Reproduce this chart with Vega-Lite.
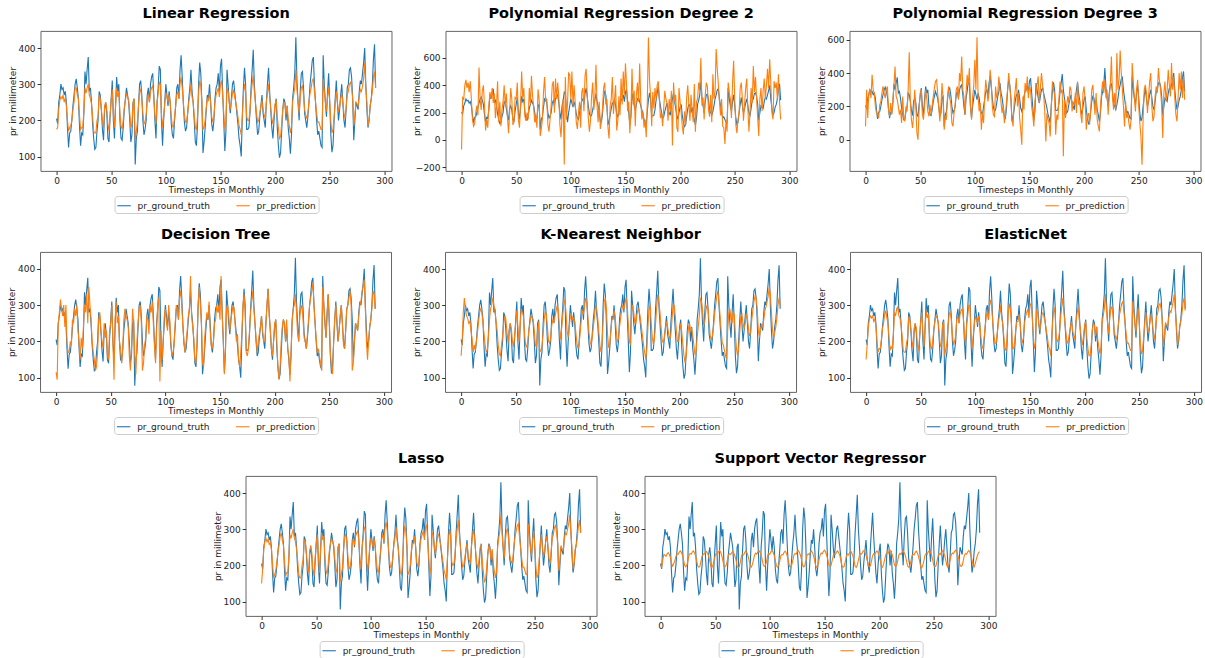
{
"$schema": "https://vega.github.io/schema/vega-lite/v6.json",
"background": "white",
"padding": {"left": 7, "top": 5, "right": 0, "bottom": 0},
"data": {"values": [
{"t":0,"g":205,"a":175,"b":-70,"c":80,"d":115,"e":160,"f":150,"h":150,"s":200},
{"t":1,"g":190,"a":180,"b":310,"c":300,"d":95,"e":200,"f":190,"h":190,"s":195},
{"t":2,"g":250,"a":230,"b":300,"c":130,"d":250,"e":280,"f":240,"h":245,"s":215},
{"t":3,"g":270,"a":255,"b":400,"c":280,"d":280,"e":320,"f":260,"h":265,"s":230},
{"t":4,"g":300,"a":265,"b":440,"c":300,"d":315,"e":290,"f":270,"h":275,"s":228},
{"t":5,"g":285,"a":260,"b":380,"c":250,"d":290,"e":270,"f":265,"h":265,"s":225},
{"t":6,"g":290,"a":270,"b":420,"c":390,"d":270,"e":265,"f":270,"h":272,"s":232},
{"t":7,"g":270,"a":250,"b":350,"c":300,"d":300,"e":250,"f":255,"h":258,"s":235},
{"t":8,"g":280,"a":262,"b":430,"c":280,"d":240,"e":255,"f":262,"h":262,"s":230},
{"t":9,"g":250,"a":240,"b":300,"c":200,"d":300,"e":230,"f":245,"h":245,"s":222},
{"t":10,"g":180,"a":200,"b":150,"c":160,"d":200,"e":210,"f":200,"h":205,"s":205},
{"t":11,"g":125,"a":170,"b":100,"c":150,"d":170,"e":170,"f":170,"h":165,"s":198},
{"t":12,"g":165,"a":180,"b":120,"c":130,"d":170,"e":190,"f":180,"h":175,"s":205},
{"t":13,"g":170,"a":185,"b":200,"c":210,"d":200,"e":175,"f":180,"h":185,"s":212},
{"t":14,"g":200,"a":200,"b":250,"c":230,"d":190,"e":200,"f":205,"h":210,"s":225},
{"t":15,"g":240,"a":230,"b":180,"c":280,"d":260,"e":225,"f":235,"h":235,"s":232},
{"t":16,"g":270,"a":250,"b":530,"c":320,"d":250,"e":255,"f":250,"h":255,"s":230},
{"t":17,"g":300,"a":290,"b":300,"c":280,"d":290,"e":280,"f":275,"h":280,"s":236},
{"t":18,"g":315,"a":290,"b":220,"c":250,"d":270,"e":290,"f":285,"h":290,"s":240},
{"t":19,"g":290,"a":270,"b":360,"c":300,"d":300,"e":280,"f":265,"h":270,"s":236},
{"t":20,"g":260,"a":260,"b":400,"c":320,"d":230,"e":250,"f":250,"h":255,"s":228},
{"t":21,"g":185,"a":215,"b":250,"c":180,"d":200,"e":220,"f":210,"h":215,"s":215},
{"t":22,"g":130,"a":175,"b":70,"c":140,"d":150,"e":190,"f":175,"h":170,"s":200},
{"t":23,"g":165,"a":180,"b":150,"c":220,"d":210,"e":170,"f":185,"h":180,"s":196},
{"t":24,"g":160,"a":180,"b":90,"c":150,"d":180,"e":175,"f":180,"h":180,"s":200},
{"t":25,"g":220,"a":225,"b":250,"c":230,"d":240,"e":210,"f":220,"h":225,"s":213},
{"t":26,"g":335,"a":290,"b":350,"c":330,"d":300,"e":260,"f":280,"h":285,"s":228},
{"t":27,"g":300,"a":275,"b":300,"c":440,"d":280,"e":290,"f":270,"h":275,"s":233},
{"t":28,"g":340,"a":290,"b":380,"c":260,"d":330,"e":300,"f":290,"h":290,"s":231},
{"t":29,"g":375,"a":300,"b":270,"c":240,"d":250,"e":320,"f":295,"h":300,"s":237},
{"t":30,"g":280,"a":270,"b":340,"c":200,"d":350,"e":300,"f":270,"h":275,"s":240},
{"t":31,"g":290,"a":260,"b":160,"c":150,"d":300,"e":285,"f":265,"h":265,"s":235},
{"t":32,"g":250,"a":245,"b":260,"c":180,"d":260,"e":255,"f":245,"h":245,"s":226},
{"t":33,"g":190,"a":210,"b":430,"c":100,"d":200,"e":230,"f":215,"h":215,"s":214},
{"t":34,"g":150,"a":170,"b":130,"c":260,"d":170,"e":190,"f":175,"h":175,"s":198},
{"t":35,"g":120,"a":165,"b":280,"c":130,"d":150,"e":165,"f":170,"h":165,"s":195},
{"t":36,"g":125,"a":165,"b":100,"c":110,"d":120,"e":160,"f":170,"h":165,"s":198},
{"t":37,"g":170,"a":200,"b":220,"c":200,"d":130,"e":190,"f":195,"h":200,"s":212},
{"t":38,"g":200,"a":210,"b":280,"c":170,"d":170,"e":215,"f":210,"h":215,"s":226},
{"t":39,"g":280,"a":270,"b":400,"c":300,"d":260,"e":250,"f":265,"h":270,"s":230},
{"t":40,"g":270,"a":260,"b":250,"c":525,"d":280,"e":270,"f":260,"h":265,"s":232},
{"t":41,"g":230,"a":230,"b":340,"c":230,"d":230,"e":260,"f":235,"h":235,"s":236},
{"t":42,"g":175,"a":200,"b":170,"c":120,"d":200,"e":225,"f":200,"h":200,"s":238},
{"t":43,"g":145,"a":180,"b":50,"c":70,"d":180,"e":195,"f":180,"h":180,"s":233},
{"t":44,"g":230,"a":240,"b":200,"c":150,"d":250,"e":230,"f":235,"h":240,"s":225},
{"t":45,"g":250,"a":250,"b":380,"c":300,"d":210,"e":250,"f":250,"h":255,"s":212},
{"t":46,"g":220,"a":230,"b":300,"c":210,"d":230,"e":235,"f":235,"h":235,"s":197},
{"t":47,"g":150,"a":190,"b":110,"c":40,"d":160,"e":200,"f":190,"h":190,"s":194},
{"t":48,"g":140,"a":170,"b":130,"c":0,"d":150,"e":185,"f":175,"h":170,"s":202},
{"t":49,"g":210,"a":215,"b":310,"c":180,"d":230,"e":215,"f":215,"h":220,"s":214},
{"t":50,"g":260,"a":255,"b":300,"c":280,"d":250,"e":250,"f":255,"h":260,"s":227},
{"t":51,"g":310,"a":285,"b":420,"c":300,"d":300,"e":285,"f":280,"h":285,"s":233},
{"t":52,"g":200,"a":220,"b":150,"c":150,"d":200,"e":240,"f":225,"h":225,"s":229},
{"t":53,"g":150,"a":180,"b":90,"c":120,"d":95,"e":200,"f":185,"h":180,"s":238},
{"t":54,"g":240,"a":240,"b":260,"c":200,"d":260,"e":240,"f":240,"h":245,"s":241},
{"t":55,"g":320,"a":290,"b":500,"c":300,"d":310,"e":290,"f":285,"h":290,"s":236},
{"t":56,"g":280,"a":265,"b":310,"c":250,"d":250,"e":280,"f":265,"h":270,"s":227},
{"t":57,"g":300,"a":280,"b":380,"c":170,"d":270,"e":270,"f":275,"h":280,"s":213},
{"t":58,"g":200,"a":220,"b":170,"c":140,"d":200,"e":225,"f":220,"h":220,"s":199},
{"t":59,"g":150,"a":185,"b":140,"c":210,"d":180,"e":190,"f":185,"h":185,"s":196},
{"t":60,"g":145,"a":175,"b":200,"c":150,"d":140,"e":185,"f":180,"h":175,"s":200},
{"t":61,"g":180,"a":200,"b":150,"c":210,"d":180,"e":200,"f":200,"h":205,"s":213},
{"t":62,"g":230,"a":235,"b":380,"c":260,"d":260,"e":230,"f":235,"h":240,"s":228},
{"t":63,"g":260,"a":255,"b":260,"c":310,"d":290,"e":250,"f":255,"h":260,"s":232},
{"t":64,"g":290,"a":275,"b":470,"c":350,"d":270,"e":270,"f":270,"h":275,"s":230},
{"t":65,"g":270,"a":265,"b":320,"c":360,"d":260,"e":265,"f":265,"h":265,"s":235},
{"t":66,"g":250,"a":255,"b":240,"c":280,"d":240,"e":260,"f":255,"h":255,"s":239},
{"t":67,"g":200,"a":220,"b":130,"c":200,"d":160,"e":230,"f":220,"h":220,"s":234},
{"t":68,"g":140,"a":180,"b":180,"c":110,"d":120,"e":190,"f":185,"h":180,"s":226},
{"t":69,"g":160,"a":190,"b":90,"c":200,"d":180,"e":185,"f":195,"h":190,"s":215},
{"t":70,"g":250,"a":245,"b":370,"c":340,"d":290,"e":230,"f":245,"h":250,"s":198},
{"t":71,"g":260,"a":260,"b":300,"c":240,"d":250,"e":255,"f":255,"h":260,"s":193},
{"t":72,"g":78,"a":145,"b":30,"c":60,"d":170,"e":170,"f":160,"h":155,"s":197},
{"t":73,"g":150,"a":170,"b":80,"c":140,"d":110,"e":175,"f":180,"h":175,"s":210},
{"t":74,"g":170,"a":195,"b":150,"c":120,"d":200,"e":185,"f":195,"h":195,"s":226},
{"t":75,"g":240,"a":240,"b":350,"c":260,"d":250,"e":220,"f":240,"h":245,"s":231},
{"t":76,"g":300,"a":280,"b":460,"c":320,"d":290,"e":260,"f":275,"h":280,"s":229},
{"t":77,"g":310,"a":285,"b":280,"c":250,"d":300,"e":280,"f":280,"h":285,"s":236},
{"t":78,"g":270,"a":260,"b":300,"c":220,"d":250,"e":275,"f":260,"h":265,"s":240},
{"t":79,"g":200,"a":220,"b":110,"c":100,"d":120,"e":240,"f":220,"h":225,"s":235},
{"t":80,"g":160,"a":190,"b":60,"c":80,"d":140,"e":200,"f":190,"h":190,"s":227},
{"t":81,"g":175,"a":195,"b":150,"c":160,"d":190,"e":195,"f":200,"h":195,"s":214},
{"t":82,"g":200,"a":215,"b":250,"c":210,"d":210,"e":210,"f":215,"h":215,"s":200},
{"t":83,"g":270,"a":260,"b":400,"c":300,"d":270,"e":245,"f":260,"h":260,"s":195},
{"t":84,"g":290,"a":270,"b":430,"c":320,"d":260,"e":260,"f":270,"h":275,"s":202},
{"t":85,"g":250,"a":250,"b":200,"c":240,"d":220,"e":255,"f":250,"h":255,"s":215},
{"t":86,"g":300,"a":280,"b":450,"c":400,"d":300,"e":270,"f":275,"h":280,"s":229},
{"t":87,"g":320,"a":290,"b":300,"c":350,"d":280,"e":285,"f":285,"h":290,"s":234},
{"t":88,"g":330,"a":295,"b":420,"c":500,"d":310,"e":300,"f":290,"h":295,"s":231},
{"t":89,"g":270,"a":265,"b":320,"c":300,"d":250,"e":285,"f":265,"h":265,"s":237},
{"t":90,"g":200,"a":215,"b":110,"c":260,"d":190,"e":240,"f":220,"h":220,"s":241},
{"t":91,"g":150,"a":190,"b":20,"c":150,"d":140,"e":205,"f":190,"h":190,"s":236},
{"t":92,"g":250,"a":250,"b":180,"c":280,"d":230,"e":235,"f":245,"h":250,"s":228},
{"t":93,"g":290,"a":275,"b":300,"c":390,"d":300,"e":270,"f":270,"h":275,"s":216},
{"t":94,"g":350,"a":305,"b":-180,"c":330,"d":320,"e":305,"f":300,"h":305,"s":201},
{"t":95,"g":340,"a":300,"b":460,"c":430,"d":90,"e":315,"f":300,"h":300,"s":197},
{"t":96,"g":200,"a":220,"b":150,"c":200,"d":230,"e":280,"f":220,"h":225,"s":200},
{"t":97,"g":130,"a":180,"b":270,"c":120,"d":150,"e":230,"f":180,"h":180,"s":212},
{"t":98,"g":200,"a":210,"b":490,"c":260,"d":200,"e":210,"f":215,"h":215,"s":227},
{"t":99,"g":250,"a":245,"b":480,"c":320,"d":270,"e":240,"f":245,"h":250,"s":233},
{"t":100,"g":300,"a":275,"b":300,"c":480,"d":290,"e":270,"f":270,"h":275,"s":230},
{"t":101,"g":270,"a":265,"b":500,"c":300,"d":250,"e":275,"f":260,"h":265,"s":238},
{"t":102,"g":240,"a":250,"b":250,"c":615,"d":230,"e":260,"f":250,"h":250,"s":240},
{"t":103,"g":280,"a":270,"b":400,"c":260,"d":300,"e":265,"f":270,"h":275,"s":236},
{"t":104,"g":250,"a":250,"b":270,"c":170,"d":260,"e":255,"f":250,"h":250,"s":227},
{"t":105,"g":190,"a":210,"b":130,"c":220,"d":200,"e":225,"f":215,"h":215,"s":214},
{"t":106,"g":160,"a":185,"b":80,"c":60,"d":160,"e":195,"f":185,"h":185,"s":199},
{"t":107,"g":150,"a":180,"b":200,"c":160,"d":170,"e":180,"f":180,"h":180,"s":195},
{"t":108,"g":200,"a":210,"b":280,"c":100,"d":190,"e":190,"f":210,"h":210,"s":198},
{"t":109,"g":240,"a":240,"b":90,"c":250,"d":250,"e":225,"f":240,"h":245,"s":211},
{"t":110,"g":290,"a":270,"b":350,"c":360,"d":300,"e":260,"f":270,"h":275,"s":226},
{"t":111,"g":300,"a":280,"b":380,"c":300,"d":290,"e":285,"f":280,"h":285,"s":230},
{"t":112,"g":260,"a":260,"b":210,"c":230,"d":260,"e":275,"f":260,"h":265,"s":229},
{"t":113,"g":340,"a":300,"b":470,"c":280,"d":320,"e":295,"f":300,"h":305,"s":236},
{"t":114,"g":380,"a":320,"b":520,"c":420,"d":340,"e":320,"f":315,"h":320,"s":239},
{"t":115,"g":320,"a":290,"b":330,"c":350,"d":300,"e":310,"f":290,"h":295,"s":234},
{"t":116,"g":250,"a":250,"b":160,"c":200,"d":240,"e":270,"f":250,"h":255,"s":225},
{"t":117,"g":195,"a":215,"b":60,"c":150,"d":200,"e":225,"f":215,"h":215,"s":212},
{"t":118,"g":170,"a":195,"b":140,"c":140,"d":170,"e":200,"f":195,"h":195,"s":197},
{"t":119,"g":180,"a":195,"b":320,"c":320,"d":200,"e":190,"f":195,"h":195,"s":194},
{"t":120,"g":220,"a":220,"b":420,"c":250,"d":230,"e":210,"f":220,"h":220,"s":201},
{"t":121,"g":260,"a":250,"b":220,"c":280,"d":270,"e":240,"f":250,"h":255,"s":214},
{"t":122,"g":290,"a":270,"b":300,"c":380,"d":290,"e":265,"f":270,"h":275,"s":228},
{"t":123,"g":340,"a":300,"b":550,"c":310,"d":380,"e":300,"f":300,"h":305,"s":233},
{"t":124,"g":280,"a":265,"b":250,"c":220,"d":270,"e":290,"f":265,"h":270,"s":231},
{"t":125,"g":250,"a":250,"b":130,"c":160,"d":240,"e":265,"f":250,"h":250,"s":238},
{"t":126,"g":200,"a":215,"b":280,"c":210,"d":210,"e":230,"f":215,"h":215,"s":241},
{"t":127,"g":140,"a":180,"b":80,"c":100,"d":150,"e":190,"f":180,"h":180,"s":236},
{"t":128,"g":130,"a":175,"b":140,"c":150,"d":140,"e":170,"f":175,"h":175,"s":228},
{"t":129,"g":190,"a":210,"b":230,"c":230,"d":200,"e":195,"f":210,"h":210,"s":215},
{"t":130,"g":300,"a":275,"b":380,"c":300,"d":300,"e":260,"f":270,"h":275,"s":200},
{"t":131,"g":360,"a":310,"b":420,"c":400,"d":350,"e":310,"f":305,"h":310,"s":196},
{"t":132,"g":330,"a":295,"b":260,"c":320,"d":300,"e":320,"f":290,"h":295,"s":199},
{"t":133,"g":250,"a":250,"b":300,"c":250,"d":250,"e":290,"f":250,"h":255,"s":213},
{"t":134,"g":110,"a":175,"b":90,"c":120,"d":140,"e":220,"f":180,"h":175,"s":227},
{"t":135,"g":140,"a":180,"b":10,"c":80,"d":130,"e":185,"f":180,"h":180,"s":232},
{"t":136,"g":180,"a":200,"b":250,"c":230,"d":210,"e":190,"f":200,"h":200,"s":229},
{"t":137,"g":230,"a":235,"b":300,"c":300,"d":250,"e":225,"f":235,"h":240,"s":236},
{"t":138,"g":270,"a":260,"b":460,"c":370,"d":280,"e":260,"f":255,"h":260,"s":240},
{"t":139,"g":260,"a":255,"b":190,"c":200,"d":260,"e":265,"f":255,"h":260,"s":235},
{"t":140,"g":300,"a":275,"b":300,"c":280,"d":310,"e":285,"f":275,"h":280,"s":226},
{"t":141,"g":250,"a":250,"b":400,"c":130,"d":230,"e":270,"f":250,"h":250,"s":213},
{"t":142,"g":190,"a":210,"b":70,"c":60,"d":190,"e":230,"f":210,"h":210,"s":198},
{"t":143,"g":170,"a":195,"b":140,"c":-30,"d":180,"e":200,"f":195,"h":195,"s":194},
{"t":144,"g":200,"a":210,"b":320,"c":260,"d":200,"e":205,"f":210,"h":210,"s":202},
{"t":145,"g":260,"a":250,"b":180,"c":180,"d":250,"e":240,"f":250,"h":255,"s":215},
{"t":146,"g":290,"a":270,"b":450,"c":340,"d":260,"e":265,"f":270,"h":275,"s":229},
{"t":147,"g":300,"a":280,"b":260,"c":290,"d":300,"e":285,"f":280,"h":285,"s":234},
{"t":148,"g":330,"a":290,"b":500,"c":380,"d":280,"e":300,"f":290,"h":295,"s":232},
{"t":149,"g":280,"a":265,"b":330,"c":250,"d":300,"e":290,"f":265,"h":270,"s":238},
{"t":150,"g":350,"a":300,"b":560,"c":320,"d":260,"e":305,"f":300,"h":305,"s":242},
{"t":151,"g":370,"a":310,"b":400,"c":300,"d":380,"e":320,"f":305,"h":310,"s":237},
{"t":152,"g":280,"a":270,"b":210,"c":200,"d":270,"e":300,"f":270,"h":275,"s":228},
{"t":153,"g":200,"a":220,"b":280,"c":150,"d":210,"e":250,"f":220,"h":220,"s":216},
{"t":154,"g":115,"a":175,"b":50,"c":80,"d":110,"e":200,"f":180,"h":175,"s":201},
{"t":155,"g":170,"a":195,"b":200,"c":230,"d":180,"e":190,"f":195,"h":195,"s":197},
{"t":156,"g":340,"a":290,"b":520,"c":280,"d":290,"e":280,"f":285,"h":290,"s":200},
{"t":157,"g":300,"a":280,"b":260,"c":330,"d":300,"e":300,"f":280,"h":285,"s":213},
{"t":158,"g":250,"a":250,"b":360,"c":380,"d":270,"e":280,"f":250,"h":255,"s":227},
{"t":159,"g":220,"a":230,"b":100,"c":220,"d":230,"e":250,"f":230,"h":230,"s":232},
{"t":160,"g":260,"a":250,"b":330,"c":310,"d":260,"e":250,"f":250,"h":255,"s":230},
{"t":161,"g":300,"a":275,"b":420,"c":400,"d":280,"e":275,"f":275,"h":280,"s":237},
{"t":162,"g":310,"a":285,"b":280,"c":330,"d":300,"e":290,"f":280,"h":285,"s":240},
{"t":163,"g":280,"a":265,"b":560,"c":270,"d":290,"e":285,"f":265,"h":270,"s":235},
{"t":164,"g":250,"a":250,"b":290,"c":170,"d":240,"e":265,"f":250,"h":255,"s":227},
{"t":165,"g":220,"a":230,"b":150,"c":-10,"d":200,"e":240,"f":230,"h":230,"s":214},
{"t":166,"g":190,"a":210,"b":210,"c":160,"d":220,"e":215,"f":210,"h":210,"s":199},
{"t":167,"g":150,"a":185,"b":90,"c":120,"d":150,"e":190,"f":185,"h":185,"s":195},
{"t":168,"g":130,"a":175,"b":150,"c":100,"d":130,"e":170,"f":180,"h":175,"s":197},
{"t":169,"g":100,"a":160,"b":20,"c":20,"d":170,"e":150,"f":160,"h":160,"s":210},
{"t":170,"g":210,"a":210,"b":280,"c":200,"d":220,"e":180,"f":210,"h":215,"s":226},
{"t":171,"g":290,"a":270,"b":750,"c":350,"d":300,"e":240,"f":265,"h":270,"s":231},
{"t":172,"g":345,"a":300,"b":440,"c":300,"d":330,"e":290,"f":295,"h":300,"s":229},
{"t":173,"g":300,"a":280,"b":320,"c":270,"d":280,"e":300,"f":275,"h":280,"s":235},
{"t":174,"g":175,"a":210,"b":100,"c":30,"d":170,"e":250,"f":210,"h":210,"s":239},
{"t":175,"g":175,"a":200,"b":350,"c":150,"d":160,"e":210,"f":200,"h":200,"s":234},
{"t":176,"g":180,"a":200,"b":230,"c":120,"d":180,"e":190,"f":205,"h":205,"s":226},
{"t":177,"g":220,"a":225,"b":380,"c":250,"d":230,"e":210,"f":225,"h":230,"s":213},
{"t":178,"g":290,"a":270,"b":300,"c":350,"d":280,"e":250,"f":265,"h":270,"s":198},
{"t":179,"g":340,"a":300,"b":400,"c":280,"d":310,"e":295,"f":295,"h":300,"s":194},
{"t":180,"g":395,"a":325,"b":430,"c":300,"d":340,"e":330,"f":320,"h":325,"s":201},
{"t":181,"g":300,"a":280,"b":300,"c":-100,"d":290,"e":310,"f":280,"h":285,"s":214},
{"t":182,"g":250,"a":250,"b":160,"c":240,"d":250,"e":280,"f":250,"h":250,"s":228},
{"t":183,"g":200,"a":220,"b":200,"c":130,"d":210,"e":240,"f":220,"h":220,"s":233},
{"t":184,"g":160,"a":195,"b":100,"c":200,"d":170,"e":205,"f":195,"h":195,"s":231},
{"t":185,"g":170,"a":200,"b":230,"c":260,"d":200,"e":195,"f":200,"h":200,"s":238},
{"t":186,"g":210,"a":220,"b":360,"c":220,"d":220,"e":210,"f":220,"h":220,"s":241},
{"t":187,"g":240,"a":240,"b":300,"c":320,"d":240,"e":235,"f":240,"h":245,"s":236},
{"t":188,"g":270,"a":255,"b":270,"c":300,"d":270,"e":255,"f":255,"h":260,"s":228},
{"t":189,"g":220,"a":230,"b":140,"c":170,"d":230,"e":240,"f":230,"h":230,"s":215},
{"t":190,"g":200,"a":215,"b":300,"c":230,"d":200,"e":220,"f":215,"h":215,"s":200},
{"t":191,"g":180,"a":205,"b":210,"c":210,"d":200,"e":205,"f":205,"h":205,"s":196},
{"t":192,"g":250,"a":250,"b":360,"c":280,"d":250,"e":220,"f":250,"h":250,"s":199},
{"t":193,"g":300,"a":275,"b":-40,"c":160,"d":300,"e":260,"f":275,"h":280,"s":212},
{"t":194,"g":345,"a":300,"b":420,"c":350,"d":345,"e":300,"f":295,"h":300,"s":227},
{"t":195,"g":280,"a":265,"b":280,"c":210,"d":270,"e":300,"f":265,"h":270,"s":232},
{"t":196,"g":230,"a":235,"b":330,"c":240,"d":240,"e":270,"f":235,"h":235,"s":230},
{"t":197,"g":180,"a":205,"b":90,"c":150,"d":180,"e":230,"f":205,"h":205,"s":236},
{"t":198,"g":150,"a":190,"b":60,"c":100,"d":160,"e":200,"f":190,"h":190,"s":240},
{"t":199,"g":200,"a":215,"b":380,"c":280,"d":200,"e":200,"f":215,"h":215,"s":235},
{"t":200,"g":240,"a":245,"b":280,"c":320,"d":250,"e":230,"f":245,"h":250,"s":227},
{"t":201,"g":260,"a":255,"b":200,"c":230,"d":260,"e":250,"f":255,"h":255,"s":214},
{"t":202,"g":180,"a":210,"b":100,"c":60,"d":200,"e":225,"f":210,"h":210,"s":199},
{"t":203,"g":130,"a":180,"b":40,"c":140,"d":130,"e":190,"f":180,"h":180,"s":195},
{"t":204,"g":97,"a":150,"b":210,"c":160,"d":95,"e":160,"f":160,"h":155,"s":202},
{"t":205,"g":110,"a":155,"b":110,"c":90,"d":130,"e":140,"f":160,"h":160,"s":215},
{"t":206,"g":170,"a":190,"b":310,"c":170,"d":200,"e":160,"f":190,"h":195,"s":229},
{"t":207,"g":230,"a":230,"b":400,"c":300,"d":240,"e":200,"f":230,"h":235,"s":234},
{"t":208,"g":260,"a":250,"b":260,"c":330,"d":260,"e":235,"f":250,"h":255,"s":232},
{"t":209,"g":250,"a":245,"b":140,"c":230,"d":250,"e":250,"f":245,"h":245,"s":238},
{"t":210,"g":200,"a":215,"b":330,"c":150,"d":200,"e":230,"f":215,"h":215,"s":242},
{"t":211,"g":240,"a":240,"b":220,"c":280,"d":260,"e":235,"f":240,"h":245,"s":237},
{"t":212,"g":180,"a":205,"b":130,"c":120,"d":180,"e":215,"f":205,"h":205,"s":229},
{"t":213,"g":150,"a":185,"b":410,"c":80,"d":160,"e":190,"f":185,"h":185,"s":216},
{"t":214,"g":108,"a":165,"b":60,"c":50,"d":90,"e":165,"f":165,"h":165,"s":201},
{"t":215,"g":160,"a":185,"b":280,"c":200,"d":170,"e":170,"f":185,"h":185,"s":197},
{"t":216,"g":260,"a":250,"b":300,"c":290,"d":250,"e":210,"f":250,"h":250,"s":200},
{"t":217,"g":290,"a":270,"b":420,"c":350,"d":290,"e":240,"f":270,"h":275,"s":213},
{"t":218,"g":330,"a":290,"b":360,"c":280,"d":300,"e":270,"f":290,"h":295,"s":228},
{"t":219,"g":430,"a":340,"b":600,"c":360,"d":330,"e":320,"f":330,"h":340,"s":233},
{"t":220,"g":310,"a":285,"b":250,"c":250,"d":280,"e":310,"f":285,"h":290,"s":230},
{"t":221,"g":250,"a":250,"b":310,"c":300,"d":220,"e":285,"f":250,"h":250,"s":237},
{"t":222,"g":200,"a":220,"b":150,"c":150,"d":200,"e":245,"f":220,"h":220,"s":240},
{"t":223,"g":280,"a":265,"b":330,"c":260,"d":270,"e":255,"f":265,"h":265,"s":235},
{"t":224,"g":330,"a":290,"b":420,"c":330,"d":290,"e":285,"f":290,"h":295,"s":227},
{"t":225,"g":335,"a":295,"b":390,"c":500,"d":300,"e":300,"f":295,"h":300,"s":214},
{"t":226,"g":290,"a":270,"b":220,"c":250,"d":260,"e":290,"f":270,"h":275,"s":199},
{"t":227,"g":220,"a":230,"b":170,"c":180,"d":210,"e":250,"f":230,"h":230,"s":195},
{"t":228,"g":200,"a":215,"b":330,"c":280,"d":200,"e":215,"f":215,"h":215,"s":198},
{"t":229,"g":180,"a":205,"b":130,"c":180,"d":180,"e":205,"f":205,"h":205,"s":211},
{"t":230,"g":210,"a":220,"b":480,"c":520,"d":220,"e":215,"f":220,"h":220,"s":226},
{"t":231,"g":250,"a":250,"b":300,"c":300,"d":260,"e":240,"f":250,"h":255,"s":231},
{"t":232,"g":300,"a":275,"b":350,"c":360,"d":300,"e":275,"f":275,"h":280,"s":229},
{"t":233,"g":330,"a":290,"b":665,"c":535,"d":320,"e":300,"f":290,"h":295,"s":236},
{"t":234,"g":365,"a":310,"b":520,"c":400,"d":340,"e":325,"f":305,"h":310,"s":239},
{"t":235,"g":375,"a":315,"b":410,"c":300,"d":360,"e":340,"f":310,"h":315,"s":234},
{"t":236,"g":300,"a":280,"b":280,"c":200,"d":300,"e":310,"f":280,"h":280,"s":225},
{"t":237,"g":250,"a":250,"b":180,"c":80,"d":250,"e":270,"f":250,"h":250,"s":212},
{"t":238,"g":200,"a":220,"b":300,"c":230,"d":210,"e":230,"f":220,"h":220,"s":197},
{"t":239,"g":160,"a":195,"b":100,"c":130,"d":170,"e":195,"f":195,"h":195,"s":193},
{"t":240,"g":170,"a":195,"b":90,"c":160,"d":180,"e":190,"f":195,"h":195,"s":201},
{"t":241,"g":150,"a":185,"b":-30,"c":100,"d":160,"e":175,"f":185,"h":185,"s":214},
{"t":242,"g":130,"a":175,"b":150,"c":60,"d":140,"e":160,"f":175,"h":175,"s":228},
{"t":243,"g":125,"a":175,"b":60,"c":120,"d":120,"e":150,"f":175,"h":175,"s":233},
{"t":244,"g":380,"a":315,"b":420,"c":460,"d":350,"e":230,"f":310,"h":315,"s":231},
{"t":245,"g":300,"a":280,"b":350,"c":350,"d":300,"e":280,"f":280,"h":280,"s":238},
{"t":246,"g":250,"a":250,"b":300,"c":250,"d":260,"e":290,"f":250,"h":250,"s":241},
{"t":247,"g":210,"a":225,"b":160,"c":170,"d":210,"e":260,"f":225,"h":225,"s":236},
{"t":248,"g":280,"a":265,"b":420,"c":300,"d":270,"e":250,"f":265,"h":270,"s":228},
{"t":249,"g":330,"a":290,"b":580,"c":360,"d":330,"e":280,"f":290,"h":295,"s":215},
{"t":250,"g":250,"a":250,"b":300,"c":200,"d":260,"e":275,"f":250,"h":250,"s":200},
{"t":251,"g":160,"a":195,"b":110,"c":100,"d":170,"e":220,"f":195,"h":195,"s":196},
{"t":252,"g":112,"a":165,"b":50,"c":20,"d":130,"e":180,"f":165,"h":165,"s":199},
{"t":253,"g":130,"a":175,"b":150,"c":-150,"d":110,"e":160,"f":175,"h":175,"s":212},
{"t":254,"g":200,"a":210,"b":200,"c":130,"d":200,"e":180,"f":210,"h":215,"s":227},
{"t":255,"g":260,"a":250,"b":380,"c":300,"d":260,"e":225,"f":250,"h":255,"s":232},
{"t":256,"g":310,"a":280,"b":420,"c":330,"d":300,"e":270,"f":280,"h":285,"s":230},
{"t":257,"g":250,"a":250,"b":300,"c":280,"d":260,"e":275,"f":250,"h":250,"s":237},
{"t":258,"g":200,"a":225,"b":140,"c":160,"d":200,"e":250,"f":225,"h":225,"s":240},
{"t":259,"g":230,"a":235,"b":260,"c":260,"d":230,"e":235,"f":235,"h":240,"s":235},
{"t":260,"g":270,"a":260,"b":380,"c":350,"d":270,"e":250,"f":260,"h":265,"s":227},
{"t":261,"g":300,"a":275,"b":450,"c":400,"d":300,"e":275,"f":275,"h":280,"s":214},
{"t":262,"g":250,"a":250,"b":230,"c":200,"d":250,"e":265,"f":250,"h":255,"s":199},
{"t":263,"g":200,"a":220,"b":60,"c":110,"d":190,"e":235,"f":220,"h":220,"s":195},
{"t":264,"g":180,"a":205,"b":210,"c":140,"d":180,"e":215,"f":205,"h":205,"s":202},
{"t":265,"g":230,"a":235,"b":380,"c":260,"d":230,"e":225,"f":235,"h":240,"s":215},
{"t":266,"g":290,"a":270,"b":270,"c":320,"d":290,"e":260,"f":270,"h":275,"s":229},
{"t":267,"g":300,"a":280,"b":540,"c":280,"d":300,"e":285,"f":280,"h":285,"s":234},
{"t":268,"g":340,"a":300,"b":350,"c":430,"d":320,"e":310,"f":300,"h":305,"s":232},
{"t":269,"g":345,"a":305,"b":460,"c":350,"d":340,"e":325,"f":305,"h":310,"s":238},
{"t":270,"g":320,"a":290,"b":300,"c":300,"d":300,"e":320,"f":290,"h":290,"s":242},
{"t":271,"g":260,"a":260,"b":160,"c":200,"d":120,"e":290,"f":260,"h":260,"s":237},
{"t":272,"g":145,"a":185,"b":30,"c":10,"d":140,"e":230,"f":185,"h":185,"s":229},
{"t":273,"g":200,"a":215,"b":300,"c":280,"d":200,"e":210,"f":215,"h":215,"s":216},
{"t":274,"g":250,"a":250,"b":380,"c":350,"d":250,"e":235,"f":250,"h":255,"s":201},
{"t":275,"g":240,"a":245,"b":210,"c":230,"d":240,"e":245,"f":245,"h":245,"s":197},
{"t":276,"g":230,"a":240,"b":360,"c":300,"d":230,"e":240,"f":240,"h":240,"s":200},
{"t":277,"g":280,"a":265,"b":450,"c":420,"d":270,"e":260,"f":265,"h":270,"s":213},
{"t":278,"g":310,"a":285,"b":300,"c":330,"d":300,"e":285,"f":285,"h":290,"s":228},
{"t":279,"g":300,"a":280,"b":400,"c":260,"d":310,"e":295,"f":280,"h":285,"s":233},
{"t":280,"g":330,"a":295,"b":520,"c":460,"d":340,"e":310,"f":295,"h":300,"s":231},
{"t":281,"g":360,"a":315,"b":380,"c":300,"d":350,"e":325,"f":310,"h":315,"s":237},
{"t":282,"g":400,"a":360,"b":590,"c":380,"d":370,"e":350,"f":330,"h":340,"s":241},
{"t":283,"g":300,"a":290,"b":420,"c":250,"d":290,"e":330,"f":285,"h":290,"s":236},
{"t":284,"g":230,"a":250,"b":200,"c":150,"d":200,"e":280,"f":245,"h":250,"s":228},
{"t":285,"g":180,"a":185,"b":150,"c":110,"d":150,"e":230,"f":190,"h":190,"s":215},
{"t":286,"g":200,"a":200,"b":430,"c":250,"d":200,"e":210,"f":205,"h":205,"s":200},
{"t":287,"g":240,"a":240,"b":380,"c":400,"d":240,"e":225,"f":240,"h":245,"s":196},
{"t":288,"g":260,"a":260,"b":420,"c":300,"d":260,"e":240,"f":255,"h":255,"s":205},
{"t":289,"g":300,"a":280,"b":300,"c":410,"d":290,"e":265,"f":275,"h":280,"s":218},
{"t":290,"g":370,"a":320,"b":480,"c":250,"d":340,"e":300,"f":305,"h":310,"s":228},
{"t":291,"g":410,"a":335,"b":280,"c":380,"d":330,"e":320,"f":320,"h":325,"s":235},
{"t":292,"g":290,"a":290,"b":150,"c":240,"d":290,"e":300,"f":285,"h":290,"s":238}
]},
"config": {
  "font": "DejaVu Sans",
  "view": {"stroke": "#555555", "strokeWidth": 0.9},
  "title": {"font": "DejaVu Sans", "fontSize": 14.5, "fontWeight": "bold", "color": "#000000", "offset": 10, "anchor": "middle"},
  "axis": {"labelFont": "DejaVu Sans", "labelFontSize": 9, "labelColor": "#222222", "titleFont": "DejaVu Sans", "titleFontSize": 9, "titleFontWeight": "normal", "titleColor": "#222222", "tickColor": "#333333", "tickSize": 3.5, "domain": false, "grid": false, "labelPadding": 2},
  "axisX": {"titlePadding": 0, "labelPadding": 1.5, "labelFlush": false},
  "axisY": {"minExtent": 21, "maxExtent": 21, "titlePadding": 2.5},
  "legend": {"orient": "none", "legendX": 74, "legendY": 165, "direction": "horizontal", "strokeColor": "#cccccc", "fillColor": "#ffffff", "cornerRadius": 3, "padding": 2, "labelFont": "DejaVu Sans", "labelFontSize": 9, "labelColor": "#222222", "symbolType": "stroke", "symbolSize": 180, "symbolStrokeWidth": 1.5, "columnPadding": 23, "labelOffset": 6},
  "line": {"strokeWidth": 1.1}
},
"spacing": 12,
"center": true,
"resolve": {"scale": {"x": "independent", "y": "independent", "color": "independent"}, "legend": {"color": "independent"}},
"vconcat": [
 {"hconcat": [
  {"title": "Linear Regression", "width": 351, "height": 140,
   "encoding": {"x": {"field": "t", "type": "quantitative", "scale": {"domain": [-14.6, 306.6], "nice": false}, "axis": {"values": [0,50,100,150,200,250,300]}, "title": "Timesteps in Monthly"}},
   "layer": [
    {"mark": "line", "encoding": {"y": {"field": "g", "type": "quantitative", "scale": {"domain": [60, 447], "nice": false, "zero": false}, "axis": {"values": [100,200,300,400]}, "title": "pr in millimeter"}, "color": {"datum": "pr_ground_truth", "title": null, "scale": {"domain": ["pr_ground_truth", "pr_prediction"], "range": ["#1f77b4", "#ff7f0e"]}}}},
    {"mark": "line", "encoding": {"y": {"field": "a", "type": "quantitative", "scale": {"domain": [60, 447], "nice": false, "zero": false}, "axis": {"values": [100,200,300,400]}, "title": "pr in millimeter"}, "color": {"datum": "pr_prediction", "title": null}}}
   ]},
  {"title": "Polynomial Regression Degree 2", "width": 351, "height": 140,
   "encoding": {"x": {"field": "t", "type": "quantitative", "scale": {"domain": [-14.6, 306.6], "nice": false}, "axis": {"values": [0,50,100,150,200,250,300]}, "title": "Timesteps in Monthly"}},
   "layer": [
    {"mark": "line", "encoding": {"y": {"field": "g", "type": "quantitative", "scale": {"domain": [-227, 797], "nice": false, "zero": false}, "axis": {"values": [-200,0,200,400,600], "minExtent": 22, "maxExtent": 22}, "title": "pr in millimeter"}, "color": {"datum": "pr_ground_truth", "title": null, "scale": {"domain": ["pr_ground_truth", "pr_prediction"], "range": ["#1f77b4", "#ff7f0e"]}}}},
    {"mark": "line", "encoding": {"y": {"field": "b", "type": "quantitative", "scale": {"domain": [-227, 797], "nice": false, "zero": false}, "axis": {"values": [-200,0,200,400,600], "minExtent": 22, "maxExtent": 22}, "title": "pr in millimeter"}, "color": {"datum": "pr_prediction", "title": null}}}
   ]},
  {"title": "Polynomial Regression Degree 3", "width": 351, "height": 140,
   "encoding": {"x": {"field": "t", "type": "quantitative", "scale": {"domain": [-14.6, 306.6], "nice": false}, "axis": {"values": [0,50,100,150,200,250,300]}, "title": "Timesteps in Monthly"}},
   "layer": [
    {"mark": "line", "encoding": {"y": {"field": "g", "type": "quantitative", "scale": {"domain": [-188, 653], "nice": false, "zero": false}, "axis": {"values": [0,200,400,600]}, "title": "pr in millimeter"}, "color": {"datum": "pr_ground_truth", "title": null, "scale": {"domain": ["pr_ground_truth", "pr_prediction"], "range": ["#1f77b4", "#ff7f0e"]}}}},
    {"mark": "line", "encoding": {"y": {"field": "c", "type": "quantitative", "scale": {"domain": [-188, 653], "nice": false, "zero": false}, "axis": {"values": [0,200,400,600]}, "title": "pr in millimeter"}, "color": {"datum": "pr_prediction", "title": null}}}
   ]}
 ], "spacing": 18, "resolve": {"scale": {"x": "independent", "y": "independent", "color": "independent"}, "legend": {"color": "independent"}}},
 {"vconcat": [
  {"hconcat": [
   {"title": "Decision Tree", "width": 351, "height": 140,
    "encoding": {"x": {"field": "t", "type": "quantitative", "scale": {"domain": [-14.6, 306.6], "nice": false}, "axis": {"values": [0,50,100,150,200,250,300]}, "title": "Timesteps in Monthly"}},
    "layer": [
     {"mark": "line", "encoding": {"y": {"field": "g", "type": "quantitative", "scale": {"domain": [61, 446], "nice": false, "zero": false}, "axis": {"values": [100,200,300,400]}, "title": "pr in millimeter"}, "color": {"datum": "pr_ground_truth", "title": null, "scale": {"domain": ["pr_ground_truth", "pr_prediction"], "range": ["#1f77b4", "#ff7f0e"]}}}},
     {"mark": "line", "encoding": {"y": {"field": "d", "type": "quantitative", "scale": {"domain": [61, 446], "nice": false, "zero": false}, "axis": {"values": [100,200,300,400]}, "title": "pr in millimeter"}, "color": {"datum": "pr_prediction", "title": null}}}
    ]},
   {"title": "K-Nearest Neighbor", "width": 351, "height": 140,
    "encoding": {"x": {"field": "t", "type": "quantitative", "scale": {"domain": [-14.6, 306.6], "nice": false}, "axis": {"values": [0,50,100,150,200,250,300]}, "title": "Timesteps in Monthly"}},
    "layer": [
     {"mark": "line", "encoding": {"y": {"field": "g", "type": "quantitative", "scale": {"domain": [60, 447], "nice": false, "zero": false}, "axis": {"values": [100,200,300,400]}, "title": "pr in millimeter"}, "color": {"datum": "pr_ground_truth", "title": null, "scale": {"domain": ["pr_ground_truth", "pr_prediction"], "range": ["#1f77b4", "#ff7f0e"]}}}},
     {"mark": "line", "encoding": {"y": {"field": "e", "type": "quantitative", "scale": {"domain": [60, 447], "nice": false, "zero": false}, "axis": {"values": [100,200,300,400]}, "title": "pr in millimeter"}, "color": {"datum": "pr_prediction", "title": null}}}
    ]},
   {"title": "ElasticNet", "width": 351, "height": 140,
    "encoding": {"x": {"field": "t", "type": "quantitative", "scale": {"domain": [-14.6, 306.6], "nice": false}, "axis": {"values": [0,50,100,150,200,250,300]}, "title": "Timesteps in Monthly"}},
    "layer": [
     {"mark": "line", "encoding": {"y": {"field": "g", "type": "quantitative", "scale": {"domain": [60, 447], "nice": false, "zero": false}, "axis": {"values": [100,200,300,400]}, "title": "pr in millimeter"}, "color": {"datum": "pr_ground_truth", "title": null, "scale": {"domain": ["pr_ground_truth", "pr_prediction"], "range": ["#1f77b4", "#ff7f0e"]}}}},
     {"mark": "line", "encoding": {"y": {"field": "f", "type": "quantitative", "scale": {"domain": [60, 447], "nice": false, "zero": false}, "axis": {"values": [100,200,300,400]}, "title": "pr in millimeter"}, "color": {"datum": "pr_prediction", "title": null}}}
    ]}
  ], "spacing": 19, "resolve": {"scale": {"x": "independent", "y": "independent", "color": "independent"}, "legend": {"color": "independent"}}},
  {"hconcat": [
   {"title": "Lasso", "width": 351, "height": 140,
    "encoding": {"x": {"field": "t", "type": "quantitative", "scale": {"domain": [-14.6, 306.6], "nice": false}, "axis": {"values": [0,50,100,150,200,250,300]}, "title": "Timesteps in Monthly"}},
    "layer": [
     {"mark": "line", "encoding": {"y": {"field": "g", "type": "quantitative", "scale": {"domain": [60, 447], "nice": false, "zero": false}, "axis": {"values": [100,200,300,400]}, "title": "pr in millimeter"}, "color": {"datum": "pr_ground_truth", "title": null, "scale": {"domain": ["pr_ground_truth", "pr_prediction"], "range": ["#1f77b4", "#ff7f0e"]}}}},
     {"mark": "line", "encoding": {"y": {"field": "h", "type": "quantitative", "scale": {"domain": [60, 447], "nice": false, "zero": false}, "axis": {"values": [100,200,300,400]}, "title": "pr in millimeter"}, "color": {"datum": "pr_prediction", "title": null}}}
    ]},
   {"title": "Support Vector Regressor", "width": 351, "height": 140,
    "encoding": {"x": {"field": "t", "type": "quantitative", "scale": {"domain": [-14.6, 306.6], "nice": false}, "axis": {"values": [0,50,100,150,200,250,300]}, "title": "Timesteps in Monthly"}},
    "layer": [
     {"mark": "line", "encoding": {"y": {"field": "g", "type": "quantitative", "scale": {"domain": [60, 447], "nice": false, "zero": false}, "axis": {"values": [100,200,300,400]}, "title": "pr in millimeter"}, "color": {"datum": "pr_ground_truth", "title": null, "scale": {"domain": ["pr_ground_truth", "pr_prediction"], "range": ["#1f77b4", "#ff7f0e"]}}}},
     {"mark": "line", "encoding": {"y": {"field": "s", "type": "quantitative", "scale": {"domain": [60, 447], "nice": false, "zero": false}, "axis": {"values": [100,200,300,400]}, "title": "pr in millimeter"}, "color": {"datum": "pr_prediction", "title": null}}}
    ]}
  ], "spacing": 13, "resolve": {"scale": {"x": "independent", "y": "independent", "color": "independent"}, "legend": {"color": "independent"}}}
 ], "spacing": 15, "center": true, "resolve": {"scale": {"x": "independent", "y": "independent", "color": "independent"}, "legend": {"color": "independent"}}}
]
}
